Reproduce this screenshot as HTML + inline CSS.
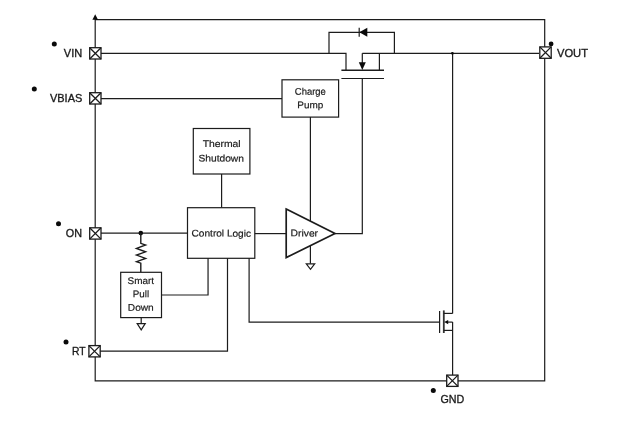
<!DOCTYPE html>
<html>
<head>
<meta charset="utf-8">
<style>
html,body{margin:0;padding:0;background:#fff;}
body{width:631px;height:421px;overflow:hidden;}
svg{display:block;filter:grayscale(1);}
.l{stroke:#1c1c1c;stroke-width:1.2;fill:none;}
.b{stroke:#1c1c1c;stroke-width:1.2;fill:#fff;}
.k{fill:#0a0a0a;stroke:none;}
.pin{font-family:"Liberation Sans",sans-serif;font-size:11.8px;fill:#1a1a1a;stroke:#1a1a1a;stroke-width:0.35;}
.t{font-family:"Liberation Sans",sans-serif;font-size:10px;fill:#1a1a1a;stroke:#1a1a1a;stroke-width:0.2;text-anchor:middle;}
</style>
</head>
<body>
<svg width="631" height="421" viewBox="0 0 631 421">
<rect width="631" height="421" fill="#fff"/>

<!-- outer border -->
<path class="l" d="M95.2 19.6 H544.7 V380.8 H95.2 Z"/>
<path class="k" d="M95.2 14.3 L98 19.8 H92.4 Z"/>

<!-- VIN line -->
<path class="l" d="M101 53.3 H346 V70"/>
<path class="l" d="M362.3 53.3 H539"/>
<path class="l" d="M379.4 53.3 V70"/>
<!-- diode loop -->
<path class="l" d="M329 53.3 V32.3 H394.4 V53.3"/>
<path class="k" d="M359.3 32.3 L367.3 27.8 V36.8 Z"/>
<path class="l" d="M359.2 27.8 V36.8"/>
<!-- MOSFET channel + gate -->
<path class="l" style="stroke-width:1.6" d="M341.4 70.2 H384"/>
<path class="l" d="M341.4 78.5 H384"/>
<path class="l" d="M362.3 53.3 V64"/>
<path class="k" d="M362.3 70 L358.8 62.3 H365.8 Z"/>
<!-- gate to driver -->
<path class="l" d="M362.3 78.5 V233.6 H334.5"/>

<!-- VBIAS line -->
<path class="l" d="M101 98.6 H282"/>
<!-- Charge pump -->
<rect class="b" x="282" y="79.8" width="56.6" height="37.3"/>
<text class="t" transform="translate(310.3 94.8) rotate(0.15) scale(0.9448 0.97)">Charge</text>
<text class="t" transform="translate(310.3 108.2) rotate(0.15) scale(0.9952 0.97)">Pump</text>
<path class="l" d="M310.4 117.1 V221"/>

<!-- Thermal shutdown -->
<rect class="b" x="193.3" y="128.5" width="56.6" height="45.5"/>
<text class="t" transform="translate(221.6 147.0) rotate(0.15) scale(1.0358 0.97)">Thermal</text>
<text class="t" transform="translate(221.2 161.6) rotate(0.15) scale(1.0228 0.97)">Shutdown</text>
<path class="l" d="M221.6 174 V207.7"/>

<!-- Control logic -->
<rect class="b" x="187.5" y="207.7" width="67.3" height="50.6"/>
<text class="t" transform="translate(221.3 236.6) rotate(0.15) scale(1.0098 0.97)">Control Logic</text>
<path class="l" d="M254.8 233.6 H286"/>

<!-- Driver -->
<path class="b" style="stroke-width:1.7" d="M286.2 209.1 L335 233.4 L286.2 257.6 Z"/>
<text class="t" transform="translate(304.3 236.4) rotate(0.15) scale(1.0310 0.97)">Driver</text>
<path class="l" d="M310.4 246 V263.7"/>
<path class="b" d="M306.3 263.8 H314.7 L310.5 269.3 Z"/>

<!-- ON line -->
<path class="l" d="M101 233.1 H187.5"/>
<circle class="k" cx="140.8" cy="233.1" r="2.3"/>
<path class="l" style="stroke-width:1.4" d="M140.8 233.1 V243.3 L145.6 245 L136.5 248.4 L145.6 251.8 L136.5 255.1 L145.6 258.4 L136.5 261.7 L140.8 263.2 V272.3"/>
<!-- Smart pull down -->
<rect class="b" x="120.7" y="272.3" width="40.8" height="45.3"/>
<text class="t" transform="translate(140.8 284.0) rotate(0.15) scale(0.9936 0.97)">Smart</text>
<text class="t" transform="translate(140.9 297.3) rotate(0.15) scale(0.9828 0.97)">Pull</text>
<text class="t" transform="translate(140.8 310.8) rotate(0.15) scale(1.0126 0.97)">Down</text>
<path class="l" d="M141.2 317.6 V323.6"/>
<path class="b" d="M137.2 323.7 H145.2 L141.2 329.8 Z"/>
<path class="l" d="M161.5 295 H208.05 V258.3"/>

<!-- RT line -->
<path class="l" d="M100 351.2 H227.5 V258.3"/>

<!-- Control to NMOS gate -->
<path class="l" d="M249.1 258.3 V322.1 H439.6"/>

<!-- pulldown NMOS -->
<path class="l" d="M439.6 311 V333"/>
<path class="l" style="stroke-width:1.8;stroke:#333" d="M443.8 310.4 V333"/>
<path class="l" d="M443.8 313.4 H452.6"/>
<path class="l" d="M443.8 330.4 H452.6"/>
<path class="l" d="M447 322.1 H452.6"/>
<path class="k" d="M444.2 322.1 L448.2 320 V324.2 Z"/>
<path class="l" d="M452.6 53.4 V313.4"/>
<path class="l" d="M452.6 322.1 V375"/>
<circle class="k" cx="452.4" cy="53.3" r="1.4"/>

<!-- pin boxes -->
<g class="b" style="stroke-width:1.3">
<rect x="89.7" y="47.7" width="11.3" height="11.3"/><path d="M89.7 47.7 l11.3 11.3 M101 47.7 l-11.3 11.3"/>
<rect x="89.7" y="92.7" width="11.3" height="11.3"/><path d="M89.7 92.7 l11.3 11.3 M101 92.7 l-11.3 11.3"/>
<rect x="89.7" y="227.8" width="11.3" height="11.3"/><path d="M89.7 227.8 l11.3 11.3 M101 227.8 l-11.3 11.3"/>
<rect x="88.9" y="345.6" width="11.3" height="11.3"/><path d="M88.9 345.6 l11.3 11.3 M100.2 345.6 l-11.3 11.3"/>
<rect x="539.8" y="46.9" width="11.4" height="11.4"/><path d="M539.8 46.9 l11.4 11.4 M551.2 46.9 l-11.4 11.4"/>
<rect x="446.7" y="375.1" width="11.3" height="11.3"/><path d="M446.7 375.1 l11.3 11.3 M458 375.1 l-11.3 11.3"/>
</g>

<!-- pin labels -->
<text class="pin" x="63.8" y="57.1" textLength="18.4" lengthAdjust="spacingAndGlyphs">VIN</text>
<text class="pin" x="50" y="102.2" textLength="32.3" lengthAdjust="spacingAndGlyphs">VBIAS</text>
<text class="pin" x="65.8" y="236.8" textLength="16.2" lengthAdjust="spacingAndGlyphs">ON</text>
<text class="pin" x="71.9" y="354.7" textLength="13.6" lengthAdjust="spacingAndGlyphs">RT</text>
<text class="pin" x="557" y="57" textLength="31" lengthAdjust="spacingAndGlyphs">VOUT</text>
<text class="pin" x="440.5" y="402.8" textLength="23.8" lengthAdjust="spacingAndGlyphs">GND</text>

<!-- dots -->
<circle class="k" cx="54.3" cy="43.9" r="2.5"/>
<circle class="k" cx="34.3" cy="89" r="2.5"/>
<circle class="k" cx="58.5" cy="223.8" r="2.5"/>
<circle class="k" cx="66" cy="341.9" r="2.5"/>
<circle class="k" cx="551.1" cy="43.9" r="2.4"/>
<circle class="k" cx="433.3" cy="390.5" r="2.5"/>
</svg>
</body>
</html>
